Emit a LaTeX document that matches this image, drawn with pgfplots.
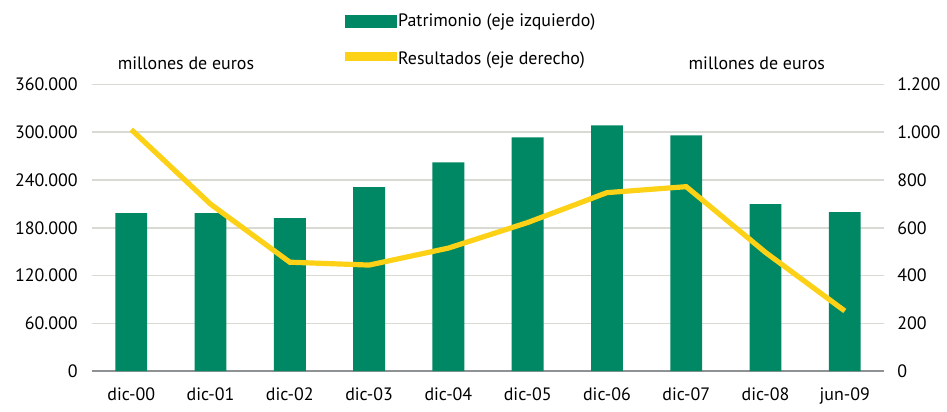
\documentclass[border=0pt]{standalone}
\usepackage{fontspec}
\setmainfont{PT Sans}
\usepackage{pgfplots}
\pgfplotsset{compat=1.18}
\usetikzlibrary{calc}
\definecolor{patGreen}{HTML}{008763}
\definecolor{resYellow}{HTML}{FCD116}
\definecolor{gridGrey}{HTML}{DADAD5}
\definecolor{baseGrey}{HTML}{8E9294}

\pgfplotsset{
  common/.style={
    width=398pt, height=144pt, scale only axis,
    xmin=-0.5, xmax=9.5,
    font=\fontsize{9}{10.8}\selectfont,
    tick style={draw=none},
    scaled y ticks=false,
  }
}

\begin{document}
\begin{tikzpicture}
\begin{axis}[common, name=ax, clip=false,
  ymin=0, ymax=360000, ytick={0,60000,...,360000},
  yticklabels={0,60.000,120.000,180.000,240.000,300.000,360.000},
  xtick={0,...,9},
  xticklabels={dic-00,dic-01,dic-02,dic-03,dic-04,dic-05,dic-06,dic-07,dic-08,jun-09},
  xticklabel style={yshift=-5pt},
  yticklabel style={xshift=-3.5pt},
  ymajorgrids, grid style={gridGrey, line width=0.8pt},
  axis x line*=bottom, axis y line*=left,
  x axis line style={-, draw=baseGrey, line width=1.1pt},
  y axis line style={draw=none},
  legend style={draw=none, fill=none, at={(0.311,1.275)}, anchor=north west,
    row sep=7pt, font=\fontsize{9}{10.8}\selectfont,
    nodes={inner xsep=0.5pt}},
  legend cell align=left,
  ]
  \addplot[ybar, bar width=16pt, fill=patGreen, draw=none, forget plot]
    coordinates {(0,198400) (1,198400) (2,192100) (3,230900) (4,262100)
                 (5,293400) (6,308400) (7,295900) (8,209600) (9,199600)};
  \addlegendimage{legend image code/.code={\fill[patGreen] (0pt,-3pt) rectangle (26pt,3pt);}}
  \addlegendentry{Patrimonio (eje izquierdo)}
  \addlegendimage{legend image code/.code={\fill[resYellow] (0pt,-0.5pt) rectangle (26pt,3.5pt);}}
  \addlegendentry{Resultados (eje derecho)}
  \node[font=\fontsize{9}{10.8}\selectfont] at (rel axis cs:0.119,1.075) {millones de euros};
  \node[font=\fontsize{9}{10.8}\selectfont] at (rel axis cs:0.839,1.075) {millones de euros};
\end{axis}
\begin{axis}[common,
  ymin=0, ymax=1200, ytick={0,200,...,1200},
  yticklabels={0,200,400,600,800,1.000,1.200},
  axis x line=none, axis y line*=right,
  y axis line style={draw=none},
  yticklabel style={xshift=3pt},
  ]
  \addplot[resYellow, line width=2.6pt, line join=miter]
    coordinates {(0,1011) (1,699) (2,456) (3,444) (4,515)
                 (5,622) (6,747) (7,772) (8,497) (9,252)};
\end{axis}
\path (ax.south west) ++(-46pt,-18.65pt) rectangle ($(ax.north east)+(29.5pt,42.35pt)$);
\end{tikzpicture}
\end{document}
